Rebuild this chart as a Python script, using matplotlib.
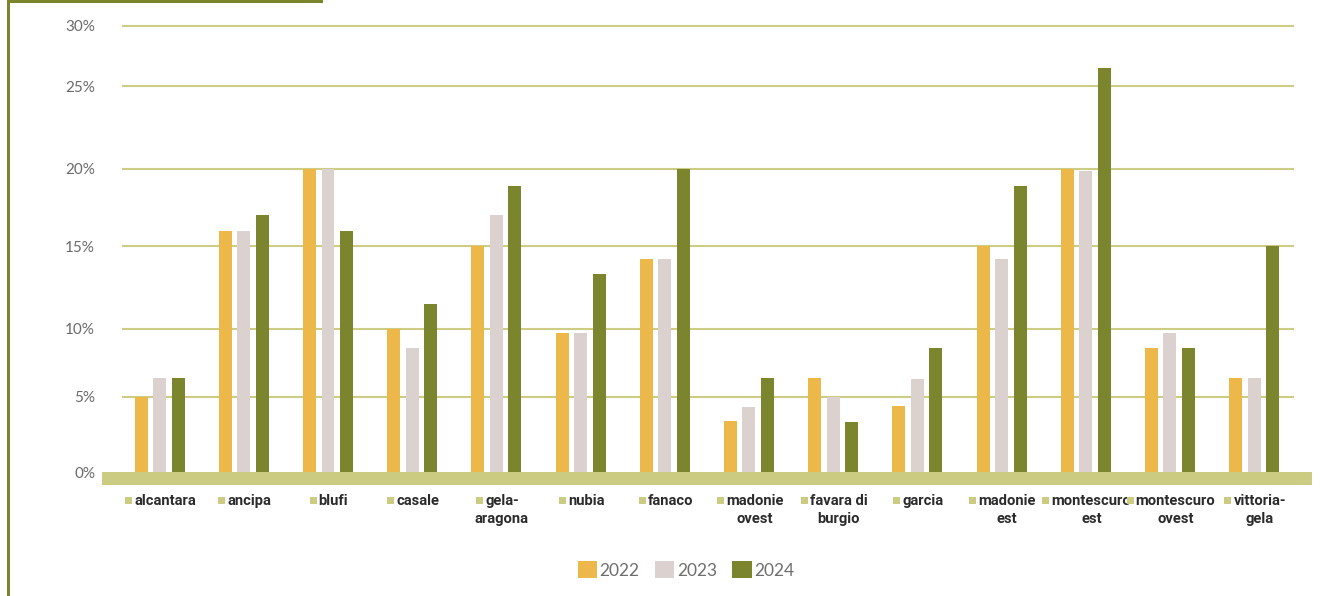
import matplotlib
matplotlib.use('Agg')
import matplotlib.pyplot as plt
from matplotlib.patches import Patch, Rectangle
import numpy as np

plt.rcParams['font.family'] = ['Lato', 'DejaVu Sans']

# dati (%)
zone = ['alcantara', 'ancipa', 'blufi', 'casale', 'gela-\naragona', 'nubia', 'fanaco',
        'madonie\novest', 'favara di\nburgio', 'garcia', 'madonie\nest', 'montescuro\nest',
        'montescuro\novest', 'vittoria-\ngela']
anni = ['2022', '2023', '2024']
v2022 = [5.0, 16.0, 20.0, 10.0, 15.0, 9.7, 14.2, 3.4, 6.4, 4.4, 15.0, 20.0, 8.6, 6.4]
v2023 = [6.4, 16.0, 20.0, 8.6, 17.0, 9.7, 14.2, 4.3, 5.0, 6.3, 14.2, 19.9, 9.7, 6.4]
v2024 = [6.4, 17.0, 16.0, 11.5, 18.9, 13.3, 20.0, 6.4, 3.3, 8.6, 18.9, 26.5, 8.6, 15.0]
tick_vals = [0, 5, 10, 15, 20, 25, 30]

colori = ['#edb84a', '#dbd1cf', '#7b852d']
oliva = '#7b852b'
banda = '#cbcb82'
griglia = '#cccc85'

# asse y a tratti: ogni intervallo di 5 punti ha la sua altezza
quote = np.array([0, 75.3, 143, 226, 303, 386, 446.3])
soglie = np.array(tick_vals, dtype=float)


def avanti(v):
    return np.interp(v, soglie, quote)


def indietro(h):
    return np.interp(h, quote, soglie)


W, H = 1343, 596
fig = plt.figure(figsize=(W / 100, H / 100), dpi=100)
ax = fig.add_axes([102 / W, 1 - 472 / H, 1210 / W, 446.3 / H])
ax.set_yscale('function', functions=(avanti, indietro))

x = np.arange(len(zone))
larg = 0.154
passo = 0.22
for k, (vals, col) in enumerate(zip([v2022, v2023, v2024], colori)):
    ax.bar(x + (k - 1) * passo, vals, width=larg, color=col, zorder=3,
           label=anni[k], clip_on=False)

ax.set_xlim(-0.684, 13.687)
ax.set_ylim(0, 30)

for t in tick_vals[1:]:
    ax.axhline(t, xmin=0.0174, xmax=0.984, color=griglia, lw=1.5, zorder=1, clip_on=False)

# banda di base sotto le barre
ax.add_patch(Rectangle((0, 0), 1, -13 / 446.3, transform=ax.transAxes,
                       facecolor=banda, edgecolor='none', clip_on=False, zorder=2))

ax.set_yticks(tick_vals)
ax.set_yticklabels([f'{t}%' for t in tick_vals], fontsize=11, color='#6a6a6a')
ax.tick_params(axis='y', length=0, pad=5)
ax.set_xticks([])
for s in ax.spines.values():
    s.set_visible(False)

# etichette delle zone con quadratino
fig.canvas.draw()
rend = fig.canvas.get_renderer()
inv = fig.transFigure.inverted()
lab_font = dict(fontsize=10.6, fontweight='bold', color='#2b2b2b',
                family=['Roboto', 'DejaVu Sans'])
for i, nome in enumerate(zone):
    ax.annotate(nome, xy=(i, 0), xycoords=('data', 'axes fraction'),
                xytext=(4, -15.5), textcoords='offset points',
                ha='center', va='top', linespacing=1.45, **lab_font)
    prima = nome.split('\n')[0]
    tmp = ax.annotate(prima, xy=(i, 0), xycoords=('data', 'axes fraction'),
                      xytext=(4, -15.5), textcoords='offset points',
                      ha='center', va='top', **lab_font)
    bb = tmp.get_window_extent(rend)
    tmp.remove()
    x0, y0 = inv.transform((bb.x0 - 9, bb.y0 + 3.5))
    w, h = inv.transform((7, 7)) - inv.transform((0, 0))
    fig.add_artist(Rectangle((x0, y0), w, h, transform=fig.transFigure,
                             facecolor=banda, edgecolor='none'))

# legenda
handles = [Patch(facecolor=c, edgecolor='none', label=a) for c, a in zip(colori, anni)]
fig.legend(handles=handles, loc='center', bbox_to_anchor=(686 / W, 1 - 570 / H), ncol=3,
           frameon=False, fontsize=12.5, handlelength=1.1, handleheight=1.1,
           handletextpad=0.15, columnspacing=0.9, labelcolor='#6e6e6e')

# cornice oliva in alto a sinistra
fig.add_artist(Rectangle((7 / W, 1 - 3 / H), 316 / W, 3 / H, transform=fig.transFigure,
                         facecolor=oliva, edgecolor='none'))
fig.add_artist(Rectangle((7 / W, 0), 2.5 / W, 1, transform=fig.transFigure,
                         facecolor=oliva, edgecolor='none'))

fig.savefig('out.png', dpi=100)
